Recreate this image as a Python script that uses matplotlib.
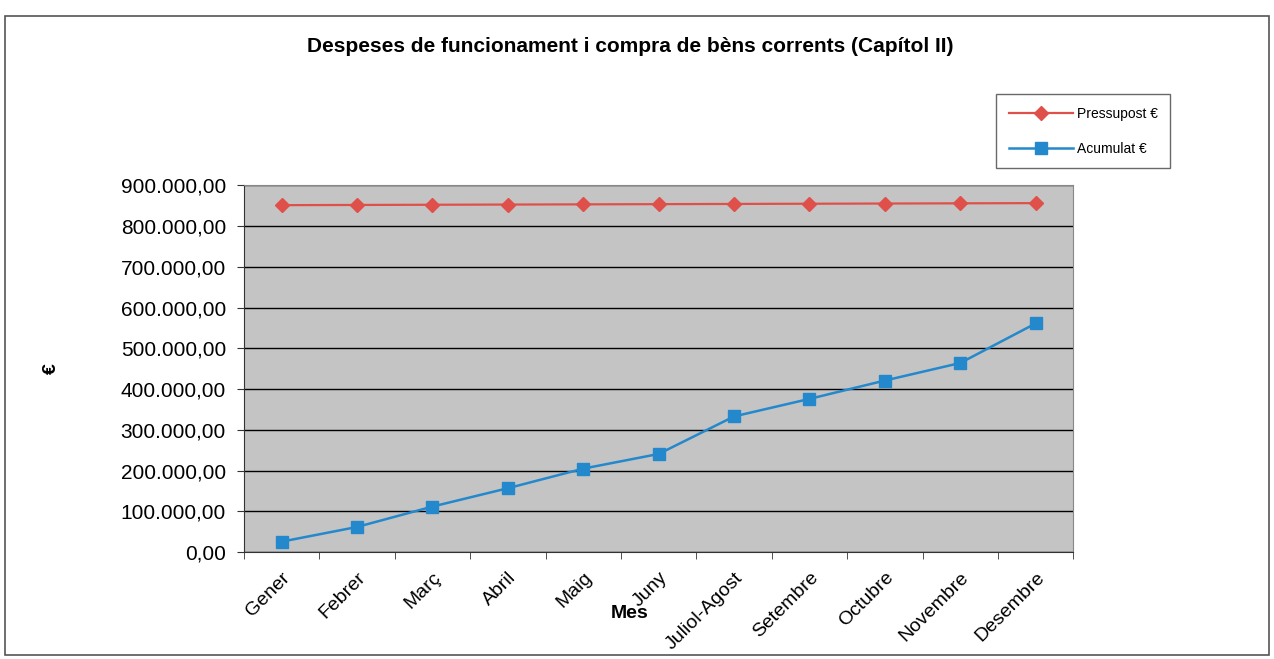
import matplotlib.pyplot as plt
from matplotlib.patches import Rectangle
from matplotlib.ticker import FuncFormatter, FixedLocator

# Data
mesos = ['Gener', 'Febrer', 'Març', 'Abril', 'Maig', 'Juny', 'Juliol-Agost',
         'Setembre', 'Octubre', 'Novembre', 'Desembre']
pressupost = [851000, 851500, 852000, 852500, 853000, 853500, 854000,
              854500, 855000, 855500, 856000]
acumulat = [26000, 62000, 112000, 157000, 205000, 241000, 333000,
            376000, 421000, 464000, 561000]

plt.rcParams['font.family'] = ['Liberation Sans', 'DejaVu Sans']

fig = plt.figure(figsize=(12.74, 6.59), dpi=100)
ax = fig.add_axes([0.1915, 0.162, 0.651, 0.557])

# outer chart frame
fig.patches.append(Rectangle((0.004, 0.006), 0.992, 0.97, transform=fig.transFigure,
                             fill=False, edgecolor='#555555', linewidth=1.2))

ax.set_facecolor('#c4c4c4')
x = range(len(mesos))
ax.plot(x, pressupost, color='#e0504a', marker='D', markersize=7,
        linewidth=1.6, label='Pressupost €')
ax.plot(x, acumulat, color='#2488cc', marker='s', markersize=8.5,
        linewidth=1.8, label='Acumulat €')

ax.set_xlim(-0.5, 10.5)
ax.set_ylim(0, 900000)
ax.set_yticks(range(0, 900001, 100000))
ax.yaxis.set_major_formatter(FuncFormatter(
    lambda v, p: f"{v:,.2f}".replace(',', 'X').replace('.', ',').replace('X', '.')))
ax.grid(axis='y', color='black', linewidth=1.0)
ax.set_axisbelow(True)

ax.set_xticks(list(x))
ax.set_xticklabels(mesos, rotation=45, ha='right', rotation_mode='anchor', fontsize=14)
ax.tick_params(axis='x', which='major', length=0, pad=12)
ax.xaxis.set_minor_locator(FixedLocator([i + 0.5 for i in range(-1, 11)]))
ax.tick_params(axis='x', which='minor', length=5, direction='out', color='#333333')
ax.tick_params(axis='y', length=5, direction='out', labelsize=15, pad=8, color='#333333')

for side in ['top', 'right']:
    ax.spines[side].set_color('#888888')
for side in ['left', 'bottom']:
    ax.spines[side].set_color('#333333')

ax.set_ylabel('€', fontsize=14, fontweight='bold', labelpad=44)
fig.text(630 / 1274, 1 - 613 / 659, 'Mes', ha='center', va='center',
         fontsize=14, fontweight='bold')

fig.text(0.495, 0.93, 'Despeses de funcionament i compra de bèns corrents (Capítol II)',
         ha='center', va='center', fontsize=15, fontweight='bold')

leg = fig.legend(loc='upper left', bbox_to_anchor=(0.782, 0.857), fontsize=10,
                 frameon=True, fancybox=False, edgecolor='#444444',
                 handlelength=4.6, labelspacing=1.5, borderpad=0.9, handletextpad=0.3,
                 borderaxespad=0)
leg.get_frame().set_linewidth(1.0)

fig.savefig('out.png', dpi=100)
